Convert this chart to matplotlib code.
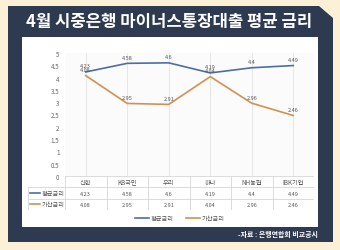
import matplotlib
matplotlib.use("Agg")
import matplotlib.pyplot as plt
from matplotlib.patches import Polygon, Rectangle
from matplotlib.lines import Line2D

plt.rcParams['font.family'] = ['Noto Sans CJK KR', 'DejaVu Sans']

categories = ['신한', 'KB국민', '우리', '하나', 'NH농협', 'IBK기업']
avg_rate = [4.23, 4.58, 4.6, 4.19, 4.4, 4.49]
add_rate = [4.08, 2.95, 2.91, 4.04, 2.96, 2.46]
series_names = ['평균금리', '가산금리']
title = '4월 시중은행 마이너스통장대출 평균 금리'
source = '-자료 : 은행연합회 비교공시'

W, H = 340, 251
fig = plt.figure(figsize=(W / 100, H / 100), dpi=100)
fig.patch.set_facecolor('#fcf0d6')

def fx(x): return x / W
def fy(y): return 1 - y / H

navy = '#2e3a4f'
pts = [(8, 7), (319, 7), (333, 19), (333, 243), (8, 243)]
fig.patches.append(Polygon([(fx(x), fy(y)) for x, y in pts], closed=True,
                           transform=fig.transFigure, facecolor=navy, edgecolor='none', zorder=0))
fig.patches.append(Rectangle((fx(22), fy(228)), fx(318) - fx(22), fy(38) - fy(228),
                             transform=fig.transFigure, facecolor='white', edgecolor='none', zorder=1))

fig.text(fx(169), fy(22.5), title, color='white', fontsize=12, fontweight='bold',
         ha='center', va='center')
fig.text(fx(318), fy(234), source, color='white', fontsize=5, fontweight='bold',
         ha='right', va='center')

blue = '#4a6fa5'
orange = '#d58f4f'

left, right, top, bottom = 65, 314, 54, 177
ax = fig.add_axes([fx(left), fy(bottom), fx(right) - fx(left), fy(top) - fy(bottom)])
ax.set_facecolor('#fbfbfb')
ax.set_zorder(2)
x = list(range(len(categories)))
for xi in x:
    ax.axvline(xi, color='#e2e2e2', lw=0.6, zorder=0)
ax.plot(x, avg_rate, color=blue, lw=1.2, zorder=3)
ax.plot(x, add_rate, color=orange, lw=1.2, zorder=3)
for xi, v in zip(x, avg_rate):
    ax.annotate(f'{v:g}', (xi, v), xytext=(0, 2.5), textcoords='offset points',
                ha='center', va='bottom', fontsize=4, color='#555555')
for xi, v in zip(x, add_rate):
    ax.annotate(f'{v:g}', (xi, v), xytext=(0, 2.5), textcoords='offset points',
                ha='center', va='bottom', fontsize=4, color='#555555')
ax.set_xlim(-0.5, len(categories) - 0.5)
ax.set_ylim(0, 5)
ax.set_yticks([i * 0.5 for i in range(11)])
ax.set_yticklabels([f'{i * 0.5:g}' for i in range(11)], fontsize=4.5, color='#666666')
ax.set_xticks([])
ax.tick_params(axis='y', length=0, pad=4)
for s in ax.spines.values():
    s.set_visible(False)

tleft, tbottom = 28, 211
unit = (right - left) / len(categories)
tab = fig.add_axes([fx(tleft), fy(tbottom), fx(right) - fx(tleft), fy(bottom) - fy(tbottom)])
tab.set_zorder(2)
x0 = -0.5 - (left - tleft) / unit
tab.set_xlim(x0, len(categories) - 0.5)
tab.set_ylim(3, 0)
tab.axis('off')
gc = '#d6d6d6'
lw = 0.6
tab.plot([-0.5, len(categories) - 0.5], [0, 0], color=gc, lw=lw)
for yy in [1, 2, 3]:
    tab.plot([x0, len(categories) - 0.5], [yy, yy], color=gc, lw=lw)
for i in range(len(categories) + 1):
    tab.plot([i - 0.5, i - 0.5], [0, 3], color=gc, lw=lw)
tab.plot([x0, x0], [1, 3], color=gc, lw=lw)
for xi, c in enumerate(categories):
    tab.text(xi, 0.5, c, ha='center', va='center', fontsize=4.5, color='#555555')
for row, (vals, name, col) in enumerate([(avg_rate, series_names[0], blue),
                                          (add_rate, series_names[1], orange)]):
    yy = row + 1.5
    tab.plot([x0 + 0.05, x0 + 0.3], [yy, yy], color=col, lw=1.2)
    tab.text(x0 + 0.33, yy, name, ha='left', va='center', fontsize=4.5, color='#555555')
    for xi, v in enumerate(vals):
        tab.text(xi, yy, f'{v:g}', ha='center', va='center', fontsize=4, color='#555555')

handles = [Line2D([], [], color=blue, lw=1.2), Line2D([], [], color=orange, lw=1.2)]
fig.legend(handles, series_names, loc='center', bbox_to_anchor=(fx(180), fy(219)),
           ncol=2, frameon=False, fontsize=4.5, handlelength=2.2, columnspacing=2.0,
           handletextpad=0.3, labelcolor='#555555')

fig.savefig('out.png', dpi=100, facecolor=fig.get_facecolor())
